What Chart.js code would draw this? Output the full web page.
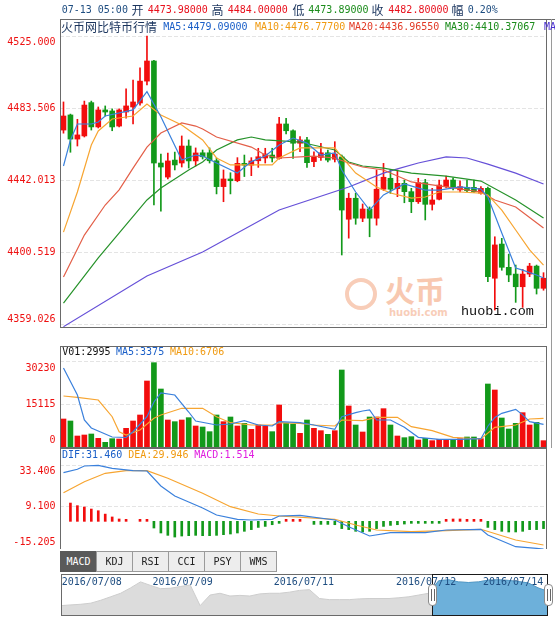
<!DOCTYPE html>
<html><head><meta charset="utf-8">
<script src="https://cdn.jsdelivr.net/npm/chart.js@4.4.1/dist/chart.umd.min.js"></script>
<style>
html,body{margin:0;padding:0;background:#fff;}
body{width:555px;height:617px;overflow:hidden;position:relative;font-family:"DejaVu Sans Mono",monospace;}
canvas{position:absolute;left:0;}
.t{position:absolute;white-space:nowrap;font-size:10px;line-height:14px;height:14px;}
.c{font-family:"Noto Sans CJK SC",sans-serif;font-size:12px;}
.tab{position:absolute;top:551px;height:21px;line-height:20px;text-align:center;font-size:10px;background:#ededed;border:1px solid #9a9a9a;box-sizing:border-box;color:#222;}
.hd{position:absolute;width:9px;height:22px;top:584px;background:#fff;border:1px solid #8a8a8a;border-radius:4px;box-sizing:border-box;}
.hd:before,.hd:after{content:"";position:absolute;top:4px;height:12px;width:1px;background:#666;}
.hd:before{left:2px}.hd:after{left:5px}
</style></head><body>
<div id="wm" style="position:absolute;left:345px;top:276px;width:110px;height:45px;">
  <div style="position:absolute;left:0;top:2px;width:32px;height:32px;border:4px solid #f8cdb8;border-radius:50%;box-sizing:border-box;"></div>
  <div style="position:absolute;left:40px;top:-4px;font-family:'Noto Sans CJK SC';font-size:30px;line-height:34px;color:#f8c8b0;font-weight:bold;">火币</div>
  <div style="position:absolute;left:44px;top:31px;font-family:'DejaVu Sans';font-size:10px;line-height:12px;color:#f8cdb8;font-weight:bold;">huobi.com</div>
</div>
<div style="position:absolute;left:546px;top:19px;width:9px;height:1px;background:#6a6a6a;"></div>
<div style="position:absolute;left:551px;top:19px;width:1px;height:429px;background:#9a9a9a;"></div>
<canvas id="cMain" width="555" height="330" style="top:0"></canvas>
<canvas id="cVol" width="555" height="110" style="top:340px"></canvas>
<canvas id="cMacd" width="555" height="101" style="top:448px"></canvas>
<canvas id="cNav" width="555" height="47" style="top:570px"></canvas>
<canvas id="cNavSel" width="555" height="47" style="top:570px"></canvas>
<div id="txt"></div>
<script>
// ---------- DATA ----------
const candleOpen  = [4470.8,4479.5,4465.6,4467.4,4486.6,4472.6,4482.4,4481.8,4473.1,4481.2,
                     4484.1,4486.4,4499.0,4510.6,4451.8,4443.7,4453.5,4451.8,4461.6,4453.0,
                     4457.7,4457.7,4453.1,4438.2,4442.6,4441.6,4451.6,4450.6,4453.1,4454.7,
                     4456.4,4454.5,4474.3,4470.4,4463.2,4465.1,4452.6,4455.0,4457.7,4454.0,
                     4455.3,4419.4,4431.5,4420.0,4425.3,4420.0,4436.7,4443.0,4437.0,4440.1,
                     4435.3,4429.5,4440.5,4428.0,4430.9,4438.2,4442.0,4436.3,4437.8,4437.8,
                     4434.4,4437.2,4385.4,4405.1,4391.7,4387.8,4380.5,4387.8,4392.4,4379.6];
const candleHigh  = [4487.0,4480.0,4477.0,4487.5,4487.5,4484.1,4484.7,4483.0,4483.0,4494.5,
                     4499.6,4506.6,4525.0,4511.0,4457.0,4457.6,4458.1,4467.4,4465.1,4460.5,
                     4459.3,4460.5,4454.7,4447.8,4446.2,4454.9,4456.4,4454.9,4460.3,4460.3,
                     4460.3,4478.1,4477.6,4471.0,4467.0,4466.6,4458.3,4463.2,4459.3,4464.1,
                     4456.4,4434.4,4434.4,4428.2,4426.5,4447.8,4451.6,4447.8,4447.8,4442.0,
                     4437.2,4443.0,4442.4,4437.2,4442.0,4444.3,4443.2,4441.6,4442.0,4442.0,
                     4438.2,4438.0,4409.3,4408.4,4399.3,4393.0,4390.5,4394.0,4393.0,4388.6];
const candleLow   = [4469.0,4458.0,4461.6,4466.8,4470.8,4472.0,4478.9,4470.4,4472.6,4477.7,
                     4474.3,4485.2,4496.8,4427.6,4424.0,4442.6,4447.8,4449.5,4448.9,4450.1,
                     4454.1,4451.8,4434.0,4429.5,4434.0,4441.0,4444.0,4444.5,4449.3,4451.8,
                     4452.4,4454.0,4468.5,4454.5,4458.3,4449.3,4449.7,4453.3,4452.4,4452.4,
                     4398.8,4408.5,4416.5,4418.0,4409.3,4416.0,4436.0,4434.3,4432.4,4428.9,
                     4423.2,4428.5,4419.0,4424.7,4430.5,4437.5,4436.3,4435.2,4435.3,4434.7,
                     4433.8,4383.4,4367.1,4390.0,4383.4,4371.5,4368.6,4386.3,4376.3,4378.5];
const candleClose = [4478.9,4465.6,4468.0,4485.2,4472.6,4482.4,4481.2,4472.6,4482.4,4484.7,
                     4487.0,4499.0,4510.6,4451.8,4449.5,4453.0,4450.7,4461.6,4453.0,4457.6,
                     4455.4,4453.1,4438.2,4442.6,4441.6,4451.6,4450.6,4453.0,4455.4,4457.0,
                     4454.7,4474.3,4470.4,4463.2,4465.1,4452.0,4455.4,4457.7,4453.5,4457.0,
                     4424.7,4431.5,4420.0,4425.3,4420.0,4436.7,4443.6,4436.7,4440.1,4435.3,
                     4429.5,4440.5,4428.0,4430.5,4439.1,4442.0,4437.8,4438.2,4435.9,4435.3,
                     4437.2,4386.3,4404.6,4391.7,4387.3,4380.5,4387.8,4392.4,4379.6,4385.4];
// moving averages: [candle index, value]
const ma5  = [[0,4450.1],[1,4465.1],[2,4474.3],[4,4474.3],[5,4475.4],[6,4478.9],[10,4482.4],[12,4492.9],[14,4478.5],[17,4453.5],[19,4456.4],[20,4455.8],[22,4451.8],[25,4446.0],[27,4452.6],[29,4455.8],[31,4462.2],[33,4466.2],[35,4463.3],[37,4456.4],[39,4457.6],[40,4447.8],[42,4435.1],[44,4424.7],[46,4433.4],[49,4439.7],[52,4436.2],[54,4436.2],[57,4438.0],[60,4436.8],[61,4432.2],[63,4411.5],[65,4391.3],[66,4390.1],[68,4387.3],[69,4385.5]];
const ma10 = [[0,4412.0],[2,4435.1],[4,4462.2],[5,4470.3],[7,4477.2],[10,4478.9],[12,4485.8],[14,4479.5],[17,4473.7],[20,4465.1],[22,4454.7],[24,4450.7],[27,4450.7],[30,4450.7],[31,4454.7],[34,4460.5],[39,4460.5],[40,4455.3],[42,4446.0],[45,4438.0],[47,4434.5],[50,4431.6],[52,4432.2],[54,4435.1],[57,4435.1],[60,4434.5],[61,4433.4],[63,4424.7],[65,4413.2],[67,4401.7],[69,4393.0]];
const ma20 = [[0,4386.1],[3,4410.3],[6,4427.6],[8,4436.3],[10,4448.9],[12,4461.0],[14,4469.1],[17,4474.9],[19,4473.1],[20,4471.4],[22,4466.8],[27,4461.0],[29,4456.4],[31,4454.7],[36,4455.8],[39,4454.7],[41,4451.8],[43,4449.5],[46,4447.8],[50,4440.9],[55,4438.0],[60,4435.1],[62,4430.5],[65,4426.5],[69,4414.4]];
const ma30 = [[0,4371.1],[5,4397.1],[12,4430.5],[14,4437.4],[18,4447.8],[20,4452.4],[22,4459.3],[25,4465.1],[27,4466.8],[29,4465.1],[34,4463.9],[39,4459.3],[41,4452.4],[43,4450.1],[46,4448.9],[50,4446.0],[55,4444.3],[60,4441.4],[65,4430.5],[69,4420.1]];
const ma60 = [[0,4357.5],[12,4386.7],[20,4400.5],[31,4424.7],[41,4438.0],[46,4446.0],[48,4448.4],[51,4451.8],[55,4455.3],[58,4454.7],[61,4451.2],[65,4446.0],[69,4439.7]];
const priceTicks = [4525.000,4483.506,4442.013,4400.519,4359.026];

const volume = [9842,9139,3866,4218,4570,3046,1640,2929,2812,6561,
                9139,11248,23199,29641,20387,9490,8904,9490,10311,7382,
                7030,5390,11248,8904,10545,7382,8319,6209,7733,7382,
                5390,14763,8319,8085,4804,9490,6561,5741,4452,5741,
                27066,14412,7733,5273,10545,10545,13475,7733,3866,3281,
                3632,2461,3046,2226,2695,2695,2695,2929,3515,3515,
                2929,22145,20036,10194,6327,8319,12069,7733,8670,2226];
const volMa5  = [[0,27769],[2,18278],[3,9491],[4,6679],[7,3515],[9,3339],[10,5378],[12,10650],[13,15818],[14,18981],[16,18278],[18,12303],[19,9139],[22,7733],[24,8085],[26,9245],[28,7733],[30,7382],[31,8893],[34,8541],[36,7733],[39,6222],[40,10650],[42,12057],[43,12654],[44,13006],[45,9491],[47,9491],[49,6925],[51,3410],[54,2707],[57,2707],[60,2917],[61,7300],[62,10400],[63,11846],[65,13252],[66,11300],[67,8893],[69,7979]];
const volMa10 = [[0,17927],[2,17470],[5,16521],[7,10650],[8,5378],[9,4218],[11,5976],[13,10088],[14,11248],[17,13603],[20,13603],[22,10650],[24,8541],[27,7733],[30,7733],[31,8541],[34,8331],[36,7733],[39,7382],[40,9491],[43,9245],[45,10440],[48,10440],[50,7135],[53,5729],[56,3410],[60,2812],[62,6925],[65,7733],[67,9842],[69,10088]];
const volTicks = [30230,15115,0];

const macdHist = [null,10.85,9.3,8.5,7.3,6.3,4.3,2.6,1.4,1.0,
                  null,0.8,0.8,-3.95,-6.9,-8.3,-9.3,-8.7,-8.5,-8.3,
                  -8.5,-8.5,-8.3,-7.9,-7.5,-6.9,-5.9,-4.9,-3.6,-3.0,
                  -2.0,-1.0,0.8,0.8,0.8,null,-1.8,-1.8,-1.8,-2.0,
                  -4.3,-4.9,-5.9,-6.3,-5.9,-4.3,-3.0,-2.4,-2.0,-1.6,
                  -1.0,-1.0,-1.0,-1.0,-0.8,0.8,1.4,1.4,1.2,1.2,
                  1.2,-3.6,-4.9,-5.9,-6.3,-6.3,-5.9,-4.9,-4.9,-4.3];
const dif = [[0,28.84],[2,30.86],[3,32.81],[5,33.23],[7,31.45],[10,30.03],[12,29.85],[14,20.96],[16,15.03],[18,11.47],[20,7.91],[22,3.76],[25,1.22],[27,0.80],[30,1.22],[31,3.17],[34,3.59],[39,0.80],[41,-3.17],[44,-8.68],[47,-6.73],[52,-6.73],[55,-5.13],[60,-4.71],[61,-8.09],[65,-15.03],[68,-15.97],[69,-16.39]];
const dea = [[0,16.98],[3,23.51],[6,28.48],[9,30.03],[12,30.03],[15,25.52],[20,16.63],[24,8.69],[28,4.36],[31,3.17],[39,1.22],[42,-2.16],[45,-5.13],[50,-6.14],[55,-5.54],[60,-4.71],[65,-11.06],[69,-14.02]];
const macdTicks = [33.406,9.100,-15.205];

const navPrice = [4333,4339,4344,4353,4376,4404,4432,4475,4523,4495,4469,4472,4486,4498,4333,4418,4432,4410,4415,4410,
                  4427,4432,4432,4441,4455,4461,4390,4381,4381,4381,4387,4390,4390,4390,4396,4404,4418,4432,4532,4540,
                  4523,4518,4523,4537,4540,4535,4526,4515,4475,4447];
const navWindow = [37.3, 49];
const navDates = ["2016/07/08","2016/07/09","2016/07/11","2016/07/12","2016/07/14"];
const tabNames = ["MACD","KDJ","RSI","CCI","PSY","WMS"];

// ---------- STYLE ----------
const UP = '#f20d0d', DOWN = '#12991a';
const upDown = i => candleClose[i] >= candleOpen[i] ? UP : DOWN;
const idx = candleOpen.map((_, i) => i);
const pts = arr => arr.map(p => ({x: p[0], y: p[1]}));
const lineDs = (arr, color, w) => ({type:'line', data: pts(arr), borderColor: color, borderWidth: w || 1.2, pointRadius: 0, fill: false, tension: 0, order: 0});
const mono = '10px "DejaVu Sans Mono"';

const panelPlugin = {
  id: 'panel',
  beforeDatasetsDraw(chart, args, o) {
    if (!o.grid) return;
    const {ctx, chartArea: a} = chart, y = chart.scales.y;
    ctx.save();
    ctx.strokeStyle = '#e4e4e4'; ctx.lineWidth = 1; ctx.setLineDash([4, 2]);
    o.grid.forEach(v => {
      const py = Math.round(y.getPixelForValue(v)) + 0.5;
      ctx.beginPath(); ctx.moveTo(a.left, py); ctx.lineTo(a.right, py); ctx.stroke();
    });
    ctx.restore();
  },
  afterDraw(chart, args, o) {
    const {ctx, chartArea: a} = chart, y = chart.scales.y;
    ctx.save();
    ctx.strokeStyle = '#6a6a6a'; ctx.lineWidth = 1;
    ctx.strokeRect(a.left + 0.5, a.top + 0.5, a.right - a.left - 1, a.bottom - a.top);
    if (o.labels) {
      ctx.font = mono; ctx.fillStyle = '#ee1010';
      ctx.textAlign = 'right'; ctx.textBaseline = 'middle';
      o.labels.forEach((v, k, arr) => {
        let py = y.getPixelForValue(v);
        if (k === 0) py += o.topShift;
        if (k === arr.length - 1) py += o.bottomShift;
        ctx.fillText(o.format(v), 55.5, py);
      });
    }
    ctx.restore();
  }
};

const baseOpts = (pad, ymin, ymax, panel) => ({
  responsive: false, animation: false, devicePixelRatio: 1, events: [],
  layout: {padding: pad},
  plugins: {legend: {display: false}, tooltip: {enabled: false}, panel},
  scales: {
    x: {type: 'linear', min: -0.5, max: 69.5, display: false, offset: false},
    y: {type: 'linear', min: ymin, max: ymax, display: false}
  }
});

// ---------- MAIN ----------
new Chart(document.getElementById('cMain'), {
  type: 'bar',
  data: {datasets: [
    lineDs(ma5, '#3a80dc'), lineDs(ma10, '#f7a531'), lineDs(ma20, '#e35f48'),
    lineDs(ma30, '#26922a'), lineDs(ma60, '#6650d8'),
    {type:'bar', data: idx.map(i => ({x: i, y: [candleOpen[i], candleClose[i]]})), backgroundColor: idx.map(upDown),
     barThickness: 5, grouped: false, minBarLength: 1, order: 1},
    {type:'bar', data: idx.map(i => ({x: i, y: [candleLow[i], candleHigh[i]]})), backgroundColor: idx.map(upDown),
     barThickness: 1, grouped: false, order: 2}
  ]},
  options: baseOpts({left: 60, right: 8, top: 19, bottom: 3}, 4357.3, 4534.8,
    {grid: priceTicks, labels: priceTicks, topShift: 6, bottomShift: -5, format: v => v.toFixed(3)}),
  plugins: [panelPlugin]
});

// ---------- VOLUME ----------
new Chart(document.getElementById('cVol'), {
  type: 'bar',
  data: {datasets: [
    lineDs(volMa5, '#3a80dc'), lineDs(volMa10, '#f7a531'),
    {type:'bar', data: idx.map(i => ({x: i, y: volume[i]})), backgroundColor: idx.map(upDown),
     barThickness: 5, grouped: false, order: 1}
  ]},
  options: baseOpts({left: 60, right: 8, top: 6, bottom: 3}, 0, 35502,
    {grid: volTicks.slice(0, 2), labels: volTicks, topShift: 7, bottomShift: -7, format: v => String(v)}),
  plugins: [panelPlugin]
});

// ---------- MACD ----------
new Chart(document.getElementById('cMacd'), {
  type: 'bar',
  data: {datasets: [
    lineDs(dif, '#3a80dc'), lineDs(dea, '#f7a531'),
    {type:'bar', data: idx.map(i => ({x: i, y: macdHist[i]})), backgroundColor: idx.map(i => macdHist[i] >= 0 ? UP : DOWN),
     barThickness: 2, grouped: false, minBarLength: 2, order: 1}
  ]},
  options: baseOpts({left: 60, right: 8, top: 0, bottom: 0}, -16.39, 43.48,
    {grid: macdTicks.slice(0, 2), labels: macdTicks, topShift: 6, bottomShift: -5, format: v => v.toFixed(3)}),
  plugins: [panelPlugin]
});

// ---------- NAVIGATOR ----------
const navOpts = (plugs) => ({
  responsive: false, animation: false, devicePixelRatio: 1, events: [],
  layout: {padding: {left: 61, right: 7, top: 4, bottom: 1}},
  plugins: Object.assign({legend: {display: false}, tooltip: {enabled: false}}, plugs),
  scales: {x: {type: 'linear', min: 0, max: navPrice.length - 1, display: false}, y: {min: 4250, max: 4586, display: false}}
});
const navPts = navPrice.map((v, i) => ({x: i, y: v}));
const navFrame = {
  id: 'navFrame',
  afterDraw(chart, args, o) {
    const a = chart.chartArea, x = chart.scales.x, ctx = chart.ctx;
    ctx.save(); ctx.lineWidth = 1;
    if (o.outer) {
      ctx.strokeStyle = '#6a6a6a';
      ctx.strokeRect(a.left + 0.5, a.top + 0.5, a.right - a.left - 1, a.bottom - a.top - 1);
    } else {
      const x0 = Math.round(x.getPixelForValue(navWindow[0])), x1 = Math.round(x.getPixelForValue(navWindow[1]));
      ctx.strokeStyle = '#1a1a1a';
      ctx.strokeRect(x0 + 0.5, a.top + 0.5, x1 - x0 - 1, a.bottom - a.top - 1);
    }
    ctx.restore();
  }
};
const navChart = new Chart(document.getElementById('cNav'), {
  type: 'line',
  data: {datasets: [{data: navPts, borderColor: '#cdcdcd', borderWidth: 1, backgroundColor: '#dcdcdc', fill: 'start', pointRadius: 0, tension: 0}]},
  options: navOpts({navFrame: {outer: true}}),
  plugins: [navFrame]
});
const navSel = new Chart(document.getElementById('cNavSel'), {
  type: 'line',
  data: {datasets: [{data: navPts, borderColor: '#4c98c9', borderWidth: 1, backgroundColor: '#6db0da', fill: 'start', pointRadius: 0, tension: 0}]},
  options: navOpts({navFrame: {outer: false}}),
  plugins: [navFrame]
});
const nx = navChart.scales.x;
const selX0 = Math.round(nx.getPixelForValue(navWindow[0])), selX1 = Math.round(nx.getPixelForValue(navWindow[1]));
document.getElementById('cNavSel').style.clipPath = `inset(0px ${555 - selX1}px 0px ${selX0}px)`;

// ---------- TEXT ----------
const T = document.getElementById('txt');
function put(s, x, cy, color, cls, extra) {
  const d = document.createElement('div');
  d.className = 't' + (cls ? ' ' + cls : '');
  d.textContent = s;
  d.style.left = x + 'px'; d.style.top = (cy - 7) + 'px'; d.style.color = color;
  if (extra) Object.assign(d.style, extra);
  T.appendChild(d);
  return d;
}
const NAVY = '#1e4d80', DARK = '#1b355e', RED = '#e8101c', GREEN = '#1b8c1b', BLUE = '#1a5fc8', ORANGE = '#f09a10';
put('07-13 05:00', 61.7, 10, NAVY);
put('开', 131.5, 10, DARK, 'c'); put('4473.98000', 147.7, 10, RED);
put('高', 211.5, 10, DARK, 'c'); put('4484.00000', 227.7, 10, RED);
put('低', 292.5, 10, DARK, 'c'); put('4473.89000', 308.3, 10, GREEN);
put('收', 371.5, 10, DARK, 'c'); put('4482.80000', 388.3, 10, RED);
put('幅', 451.5, 10, DARK, 'c'); put('0.20%', 467.7, 10, NAVY);

put('火币网比特币行情', 61, 27, DARK, 'c');
put('MA5:4479.09000', 163.3, 27, BLUE);
put('MA10:4476.77700', 255, 27, ORANGE);
put('MA20:4436.96550', 349, 27, '#e23a26');
put('MA30:4410.37067', 445, 27, GREEN);
put('MA', 544, 27, '#4a30d0');

put('huobi.com', 461, 312, '#111', null, {fontFamily: '"Liberation Mono"', fontSize: '13.5px'});

put('V01:2995', 62.3, 352, '#111');
put('MA5:3375', 116, 352, BLUE);
put('MA10:6706', 170, 352, ORANGE);

put('DIF:31.460', 62, 455, BLUE);
put('DEA:29.946', 128.3, 455, ORANGE);
put('MACD:1.514', 194.3, 455, '#e01ee0');

const tabX = [60, 96, 132, 168, 204, 240, 276];
tabNames.forEach((n, k) => {
  const d = document.createElement('div');
  d.className = 'tab'; d.textContent = n;
  d.style.left = tabX[k] + 'px'; d.style.width = (tabX[k + 1] - tabX[k] + 1) + 'px';
  if (k === 0) { d.style.background = '#5a5a5a'; d.style.color = '#fff'; d.style.borderColor = '#5a5a5a'; }
  T.appendChild(d);
});

const dateX = [61.7, 152.5, 273.8, 396, 483];
navDates.forEach((s, k) => put(s, dateX[k], 582, NAVY));

[selX0, selX1].forEach(px => {
  const h = document.createElement('div');
  h.className = 'hd';
  h.style.left = (px - 4) + 'px';
  T.appendChild(h);
});
</script>
</body></html>
